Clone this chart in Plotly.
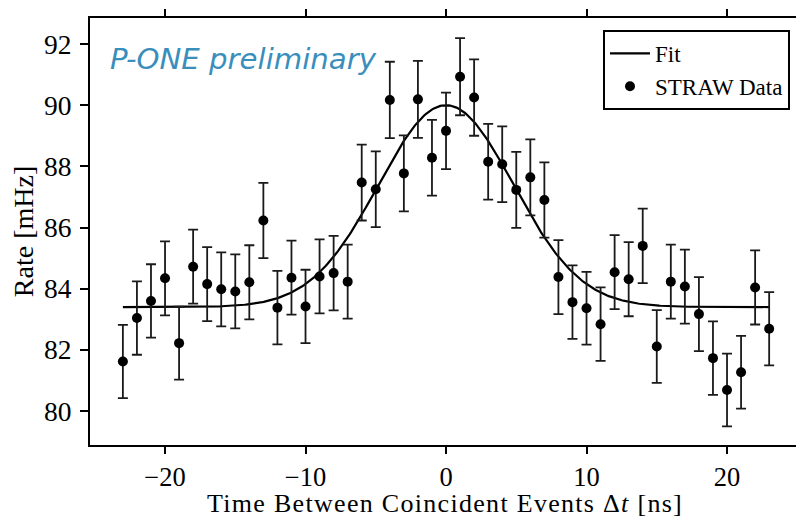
import numpy as np
import plotly.graph_objects as go

# Data
dt_ns = list(range(-23, 24))
rate_mhz = [81.62, 83.04, 83.60, 84.34, 82.22, 84.72, 84.15, 83.98, 83.91, 84.21,
            86.23, 83.38, 84.36, 83.42, 84.40, 84.51, 84.23, 87.47, 87.25, 90.17,
            87.77, 90.19, 88.28, 89.16, 90.93, 90.25, 88.15, 88.07, 87.23, 87.64,
            86.90, 84.38, 83.56, 83.36, 82.84, 84.54, 84.31, 85.40, 82.11, 84.23,
            84.07, 83.17, 81.73, 80.69, 81.27, 84.04, 82.69]
rate_err = [1.20, 1.20, 1.20, 1.21, 1.19, 1.21, 1.21, 1.21, 1.21, 1.21,
            1.23, 1.20, 1.21, 1.20, 1.21, 1.22, 1.21, 1.24, 1.24, 1.25,
            1.24, 1.26, 1.24, 1.25, 1.26, 1.25, 1.24, 1.24, 1.24, 1.24,
            1.23, 1.21, 1.20, 1.19, 1.20, 1.21, 1.21, 1.22, 1.19, 1.21,
            1.21, 1.21, 1.20, 1.19, 1.19, 1.21, 1.20]

# Gaussian fit parameters (baseline, amplitude, mean, sigma)
fit_base, fit_amp, fit_mu, fit_sigma = 83.4, 6.6, 0.0, 4.8
x_fit = np.linspace(-23, 23, 400)
y_fit = fit_base + fit_amp * np.exp(-(x_fit - fit_mu) ** 2 / (2 * fit_sigma ** 2))

x_ticks = [-20, -10, 0, 10, 20]
y_ticks = [80, 82, 84, 86, 88, 90, 92]

serif = "Liberation Serif, Times New Roman, serif"

fig = go.Figure()
fig.add_trace(go.Scatter(
    x=x_fit, y=y_fit, mode="lines", name="Fit",
    line=dict(color="black", width=2.2),
))
fig.add_trace(go.Scatter(
    x=dt_ns, y=rate_mhz, mode="markers", name="STRAW Data",
    marker=dict(color="black", size=10),
    error_y=dict(type="data", array=rate_err, visible=True,
                 color="#1a1a1a", thickness=1.8, width=5),
))

fig.add_annotation(
    x=0.025, y=0.905, xref="paper", yref="paper",
    text="P-ONE preliminary", showarrow=False,
    xanchor="left", yanchor="middle",
    font=dict(family="DejaVu Sans, sans-serif", size=29.2,
              color="#3a8ebb", style="italic"),
)

# x-axis title placed as an annotation just below the tick labels
fig.add_annotation(
    x=0.503, y=-0.176, xref="paper", yref="paper",
    text='<span style="letter-spacing:1.3px">Time Between Coincident Events Δ<i>t</i> [ns]</span>',
    showarrow=False, xanchor="center", yanchor="bottom",
    font=dict(family=serif, size=26, color="black"),
)

fig.update_layout(
    width=796, height=519,
    margin=dict(l=90, r=0, t=18, b=74),
    paper_bgcolor="white", plot_bgcolor="white",
    font=dict(family=serif, size=27, color="black"),
    showlegend=True,
    legend=dict(
        x=0.9915, y=0.972, xanchor="right", yanchor="top",
        bordercolor="black", borderwidth=2, bgcolor="white",
        font=dict(family=serif, size=23, color="black"),
        tracegroupgap=0, itemwidth=40,
    ),
)
fig.update_xaxes(
    range=[-25.34, 24.91],
    tickvals=x_ticks, ticks="outside", ticklen=7, tickwidth=1.6,
    tickcolor="black",
    showline=True, linecolor="black", linewidth=2, mirror="ticks",
    showgrid=False, zeroline=False,
    tickfont=dict(family=serif, size=26.5),
)
fig.update_yaxes(
    range=[78.89, 92.85],
    tickvals=y_ticks, ticks="outside", ticklen=8, tickwidth=1.6,
    tickcolor="black", ticklabelstandoff=3,
    showline=True, linecolor="black", linewidth=2, mirror=False,
    showgrid=False, zeroline=False,
    tickfont=dict(family=serif, size=27.5),
    title=dict(text="Rate [mHz]", font=dict(family=serif, size=28), standoff=2),
)

fig.write_html("out.html")
